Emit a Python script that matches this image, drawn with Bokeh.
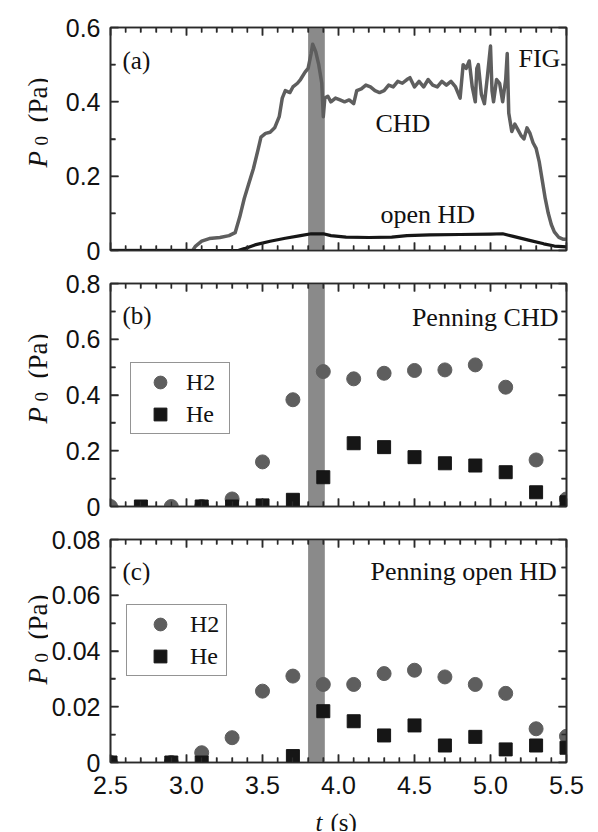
import math
from bokeh.plotting import figure
from bokeh.models import (Range1d, LinearAxis, FixedTicker, CustomJSTickFormatter,
                          Label, Legend, LegendItem, ColumnDataSource)
from bokeh.layouts import column, row
from bokeh.embed import file_html
from bokeh.resources import INLINE

# ---------------- data ----------------
t_chd = [2.50, 3.04, 3.06, 3.10, 3.15, 3.22, 3.28, 3.32, 3.35, 3.38, 3.41, 3.44, 3.47, 3.49,
         3.52, 3.55, 3.58, 3.61, 3.63, 3.65, 3.68, 3.70, 3.73, 3.75, 3.78, 3.80, 3.82, 3.83,
         3.85, 3.87, 3.89, 3.90, 3.91, 3.93, 3.95, 3.98, 4.01, 4.04, 4.07, 4.10, 4.12, 4.15,
         4.18, 4.21, 4.24, 4.27, 4.30, 4.33, 4.36, 4.39, 4.42, 4.45, 4.47, 4.50, 4.53, 4.56,
         4.59, 4.62, 4.65, 4.68, 4.71, 4.74, 4.77, 4.79, 4.80, 4.82, 4.84, 4.86, 4.88, 4.90,
         4.91, 4.92, 4.94, 4.96, 4.98, 5.00, 5.01, 5.02, 5.04, 5.06, 5.08, 5.10, 5.11, 5.12,
         5.14, 5.16, 5.18, 5.20, 5.22, 5.24, 5.26, 5.28, 5.30, 5.32, 5.34, 5.36, 5.38, 5.40,
         5.42, 5.45, 5.48, 5.50]
p_chd = [0.0, 0.0, 0.012, 0.025, 0.032, 0.035, 0.040, 0.048, 0.09, 0.14, 0.18, 0.22, 0.27, 0.305,
         0.315, 0.318, 0.33, 0.36, 0.41, 0.43, 0.425, 0.44, 0.45, 0.46, 0.48, 0.49, 0.53, 0.555,
         0.535, 0.50, 0.45, 0.36, 0.41, 0.415, 0.40, 0.41, 0.405, 0.40, 0.405, 0.395, 0.43, 0.435,
         0.445, 0.44, 0.43, 0.425, 0.43, 0.445, 0.44, 0.455, 0.45, 0.46, 0.465, 0.44, 0.455, 0.44,
         0.46, 0.445, 0.44, 0.455, 0.445, 0.455, 0.44, 0.42, 0.41, 0.50, 0.49, 0.51, 0.44, 0.40,
         0.49, 0.50, 0.42, 0.395, 0.47, 0.55, 0.43, 0.40, 0.46, 0.45, 0.40, 0.46, 0.53, 0.37,
         0.32, 0.34, 0.325, 0.31, 0.30, 0.33, 0.315, 0.29, 0.275, 0.24, 0.19, 0.14, 0.10, 0.07,
         0.05, 0.035, 0.03, 0.03]

t_open = [2.50, 3.34, 3.38, 3.45, 3.55, 3.65, 3.75, 3.82, 3.90, 3.95, 4.05, 4.20, 4.35, 4.45,
          4.60, 4.80, 5.00, 5.08, 5.15, 5.25, 5.35, 5.42, 5.50]
p_open = [0.0, 0.0, 0.005, 0.015, 0.025, 0.033, 0.040, 0.045, 0.045, 0.040, 0.036, 0.035, 0.036,
          0.040, 0.042, 0.043, 0.044, 0.045, 0.038, 0.028, 0.018, 0.012, 0.010]

t_b_h2 = [2.5, 2.9, 3.1, 3.3, 3.5, 3.7, 3.9, 4.1, 4.3, 4.5, 4.7, 4.9, 5.1, 5.3, 5.5]
p_b_h2 = [0.0, 0.0, 0.0, 0.027, 0.16, 0.383, 0.484, 0.458, 0.478, 0.488, 0.490, 0.508, 0.428, 0.167, 0.027]
t_b_he = [2.7, 3.1, 3.3, 3.5, 3.7, 3.9, 4.1, 4.3, 4.5, 4.7, 4.9, 5.1, 5.3, 5.5]
p_b_he = [0.0, 0.0, 0.0, 0.004, 0.024, 0.105, 0.227, 0.213, 0.177, 0.155, 0.147, 0.123, 0.051, 0.015]

t_c_h2 = [2.5, 2.9, 3.1, 3.3, 3.5, 3.7, 3.9, 4.1, 4.3, 4.5, 4.7, 4.9, 5.1, 5.3, 5.5]
p_c_h2 = [0.0, 0.0, 0.0035, 0.0089, 0.0256, 0.031, 0.028, 0.028, 0.0319, 0.0331, 0.0307, 0.028,
          0.0248, 0.0121, 0.0094]
t_c_he = [2.5, 2.9, 3.1, 3.7, 3.9, 4.1, 4.3, 4.5, 4.7, 4.9, 5.1, 5.3, 5.5]
p_c_he = [0.0, 0.0, 0.0, 0.0023, 0.0184, 0.0148, 0.0097, 0.0133, 0.0061, 0.0092, 0.0047, 0.0061, 0.0053]

band_start, band_end = 3.80, 3.91
x_min, x_max = 2.5, 5.5
x_ticks = [2.5, 3.0, 3.5, 4.0, 4.5, 5.0, 5.5]
x_tick_labels = ["2.5", "3.0", "3.5", "4.0", "4.5", "5.0", "5.5"]
y_ticks_a = [0.0, 0.2, 0.4, 0.6]
y_ticks_b = [0.0, 0.2, 0.4, 0.6, 0.8]
y_ticks_c = [0.0, 0.02, 0.04, 0.06, 0.08]
y_max_a, y_max_b, y_max_c = 0.6, 0.8, 0.08

# ---------------- style ----------------
SERIF = "Liberation Serif"
SANS = "Liberation Sans"
AX_COL = "#2a2a2a"
TXT = "#111111"
GRAY = "#5e5e5e"
DARK = "#161616"
BAND = "#8a8a8a"
FRAME_W, FRAME_H = 456, 223
LAB_W = 48
LEFT = 110
RIGHT = 24
MAJ_LEN, MIN_LEN = 8, 5


def minor_of(ticks, n):
    out = []
    for a, b in zip(ticks[:-1], ticks[1:]):
        for i in range(1, n):
            out.append(a + (b - a) * i / n)
    return out


def style_axis(ax):
    ax.axis_line_color = AX_COL
    ax.axis_line_width = 1.6
    ax.major_tick_in = MAJ_LEN
    ax.major_tick_out = 0
    ax.minor_tick_in = MIN_LEN
    ax.minor_tick_out = 0
    ax.major_tick_line_color = AX_COL
    ax.minor_tick_line_color = AX_COL
    ax.major_tick_line_width = 1.5
    ax.minor_tick_line_width = 1.3
    ax.major_label_text_font = SANS
    ax.major_label_text_font_size = "25px"
    ax.major_label_text_color = TXT


def text_label(x, y, text, size="26px", style="normal", align="left", angle=0.0,
               baseline="alphabetic", font=SERIF, x_units="screen"):
    return Label(x=x, y=y, x_units=x_units, y_units="screen", text=text, angle=angle,
                 text_font=font, text_font_size=size, text_font_style=style,
                 text_align=align, text_baseline=baseline, text_color=TXT)


def add_inner_ticks(p, yticks, ymax):
    dx = (x_max - x_min) / FRAME_W
    dy = ymax / FRAME_H
    x0, y0, x1, y1 = [], [], [], []
    for ticks, ln in ((x_ticks, MAJ_LEN), (minor_of(x_ticks, 5), MIN_LEN)):
        for t in ticks:
            x0 += [t, t]
            x1 += [t, t]
            y0 += [0.0, ymax]
            y1 += [ln * dy, ymax - ln * dy]
    for ticks, ln in ((yticks, MAJ_LEN), (minor_of(yticks, 2), MIN_LEN)):
        for v in ticks:
            y0 += [v, v]
            y1 += [v, v]
            x0 += [x_min, x_max]
            x1 += [x_min + ln * dx, x_max - ln * dx]
    p.segment(x0=x0, y0=y0, x1=x1, y1=y1, line_color=AX_COL, line_width=1.5)


def make_panel(ymax, yticks, ydigits, top, bottom, ylab_y):
    p = figure(frame_width=FRAME_W, frame_height=FRAME_H,
               x_range=Range1d(x_min, x_max), y_range=Range1d(0, ymax),
               output_backend="svg", toolbar_location=None,
               x_axis_type=None, y_axis_type=None,
               min_border_left=LEFT - LAB_W, min_border_right=RIGHT,
               min_border_top=top, min_border_bottom=bottom)
    p.outline_line_color = AX_COL
    p.outline_line_width = 1.6
    xt = FixedTicker(ticks=x_ticks, minor_ticks=minor_of(x_ticks, 5))
    yt = FixedTicker(ticks=yticks, minor_ticks=minor_of(yticks, 2))
    blank = CustomJSTickFormatter(code="return '';")
    yfmt = CustomJSTickFormatter(
        code="return Math.abs(tick) < 1e-9 ? '0' : tick.toFixed(%d);" % ydigits)

    for side, tk, shown in [("below", xt, False), ("above", xt, False),
                            ("left", yt, True), ("right", yt, False)]:
        ax = LinearAxis(ticker=tk, formatter=yfmt if shown else blank)
        style_axis(ax)
        if shown:
            ax.major_label_standoff = 10
        else:
            ax.major_label_text_font_size = "1px"
            ax.major_label_standoff = 0
        p.add_layout(ax, side)

    p.quad(left=[band_start], right=[band_end], bottom=[0], top=[ymax],
           fill_color=BAND, line_color=None)
    add_inner_ticks(p, yticks, ymax)

    lab = figure(width=LAB_W, height=top + FRAME_H + bottom, output_backend="svg",
                 toolbar_location=None, x_axis_type=None, y_axis_type=None, min_border=0,
                 x_range=Range1d(0, 1), y_range=Range1d(0, 1))
    lab.outline_line_color = None
    lab.grid.visible = False
    y0, y1, y2 = [v + bottom for v in ylab_y]
    lab.add_layout(text_label(37, y0, "P", size="27px", style="italic", angle=math.pi / 2))
    lab.add_layout(text_label(41, y1, "0", size="19px", angle=math.pi / 2))
    lab.add_layout(text_label(37, y2, "(Pa)", size="27px", angle=math.pi / 2))
    return p, lab


def add_legend(p, r1, r2, loc, gw, lw):
    leg = Legend(items=[LegendItem(label="H2", renderers=[r1]),
                        LegendItem(label="He", renderers=[r2])],
                 location=loc, margin=0, padding=3, spacing=0,
                 glyph_width=gw, glyph_height=32, label_standoff=0, label_width=lw,
                 label_height=20,
                 label_text_font=SERIF, label_text_font_size="24px", label_text_color=TXT,
                 border_line_color=AX_COL, border_line_width=1.5,
                 background_fill_color="white", background_fill_alpha=1.0)
    p.add_layout(leg)


# ---------------- panel (a) ----------------
pa, la = make_panel(y_max_a, y_ticks_a, 1, 27, 16, (67, 89, 112))
pa.line(t_chd, p_chd, line_color=GRAY, line_width=3.5, line_join="round")
pa.line(t_open, p_open, line_color=DARK, line_width=3.2, line_join="round")
pa.add_layout(text_label(12, 190, "(a)", size="25px"))
pa.add_layout(text_label(408, 192, "FIG"))
pa.add_layout(text_label(265, 127, "CHD"))
pa.add_layout(text_label(270, 36, "open HD"))

# ---------------- panel (b) ----------------
pb, lb = make_panel(y_max_b, y_ticks_b, 1, 17, 16, (67, 89, 112))
src_bh2 = ColumnDataSource(dict(t=t_b_h2, p=p_b_h2))
src_bhe = ColumnDataSource(dict(t=t_b_he, p=p_b_he))
rb1 = pb.scatter("t", "p", source=src_bh2, marker="circle", size=14,
                 fill_color=GRAY, line_color=GRAY)
rb2 = pb.scatter("t", "p", source=src_bhe, marker="square", size=13,
                 fill_color=DARK, line_color=DARK)
pb.add_layout(text_label(12, 191, "(b)", size="25px"))
pb.add_layout(text_label(448, 189, "Penning CHD", align="right"))
add_legend(pb, rb1, rb2, (20, 72), 52, 40)

# ---------------- panel (c) ----------------
pc, lc = make_panel(y_max_c, y_ticks_c, 2, 17, 14, (64, 86, 109))
src_ch2 = ColumnDataSource(dict(t=t_c_h2, p=p_c_h2))
src_che = ColumnDataSource(dict(t=t_c_he, p=p_c_he))
rc1 = pc.scatter("t", "p", source=src_ch2, marker="circle", size=14,
                 fill_color=GRAY, line_color=GRAY)
rc2 = pc.scatter("t", "p", source=src_che, marker="square", size=13,
                 fill_color=DARK, line_color=DARK)
pc.add_layout(text_label(12, 191, "(c)", size="25px"))
pc.add_layout(text_label(260, 191, "Penning open HD"))
add_legend(pc, rc1, rc2, (16, 86), 60, 33)

# ---------------- x tick labels and x-axis title, on the same x scale ----------------
px = (x_max - x_min) / FRAME_W
TF_H = 55
tf = figure(width=LEFT + FRAME_W + RIGHT, height=TF_H, output_backend="svg",
            toolbar_location=None, x_axis_type=None, y_axis_type=None, min_border=0,
            x_range=Range1d(x_min - LEFT * px, x_max + RIGHT * px), y_range=Range1d(0, 1))
tf.outline_line_color = None
tf.grid.visible = False
for t, s in zip(x_ticks, x_tick_labels):
    tf.add_layout(text_label(t, 47, s, size="25px", align="center", baseline="middle",
                             font=SANS, x_units="data"))
tf.add_layout(text_label(315, 9, "t", size="25px", style="italic"))
tf.add_layout(text_label(330, 9, "(s)", size="25px"))

layout = column(row(la, pa), row(lb, pb), row(lc, pc), tf)
open("out.html", "w").write(file_html(layout, INLINE))
